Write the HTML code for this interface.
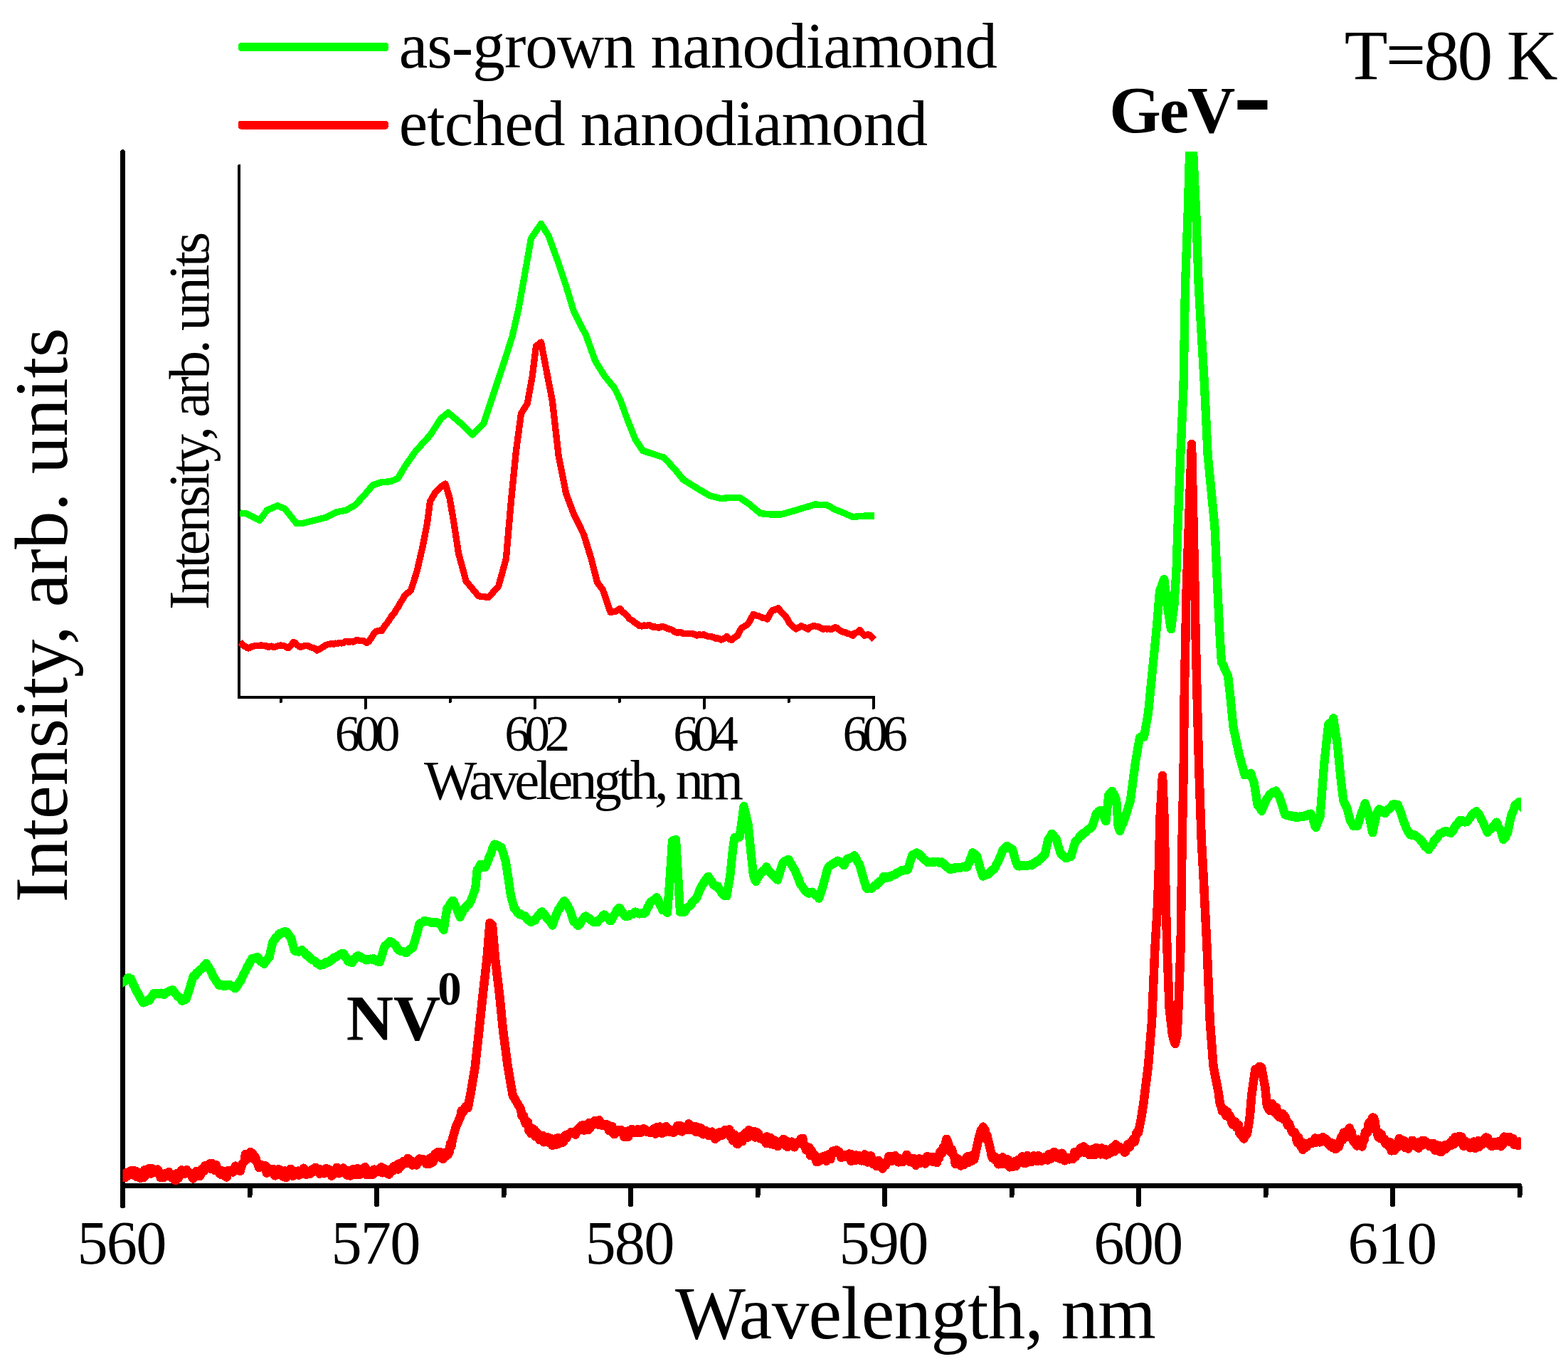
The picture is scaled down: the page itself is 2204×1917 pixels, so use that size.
<!DOCTYPE html>
<html><head><meta charset="utf-8"><title>Nanodiamond spectra</title><style>html,body{margin:0;padding:0;background:#fff;}svg{display:block;}</style></head><body>
<svg width="2204" height="1917" viewBox="0 0 2204 1917" font-family="'Liberation Serif', 'Times New Roman', serif" shape-rendering="crispEdges">
<defs><clipPath id="cm"><rect x="172.5" y="213" width="1965.5" height="1453.5"/></clipPath></defs>
<rect width="2204" height="1917" fill="#fff"/>
<g stroke="#000" stroke-width="7" stroke-linecap="round" fill="none">
<path d="M172.5 213.5 V1694.5"/>
<path d="M172.5 1666.5 H2136"/>
<path d="M172.5 1666.5 V1692.5"/>
<path d="M529.5 1666.5 V1692.5"/>
<path d="M886.5 1666.5 V1692.5"/>
<path d="M1243.5 1666.5 V1692.5"/>
<path d="M1600.5 1666.5 V1692.5"/>
<path d="M1957.5 1666.5 V1692.5"/>
<path d="M351 1666.5 V1680"/>
<path d="M708 1666.5 V1680"/>
<path d="M1065 1666.5 V1680"/>
<path d="M1422 1666.5 V1680"/>
<path d="M1779 1666.5 V1680"/>
<path d="M2136 1666.5 V1680"/>
</g>
<g clip-path="url(#cm)" fill="none" stroke-linejoin="round" stroke-linecap="butt">
<path stroke="#00ff00" stroke-width="12.3" d="M165 1386 L172.3 1380.4 L173.7 1380.1 L175.1 1378.7 L176.6 1378.2 L178 1377.3 L179.4 1375 L180.8 1373.9 L182.6 1376.5 L184.4 1376 L185.8 1378.9 L187.2 1383.7 L188.7 1385.5 L190.1 1389.4 L191.5 1391.6 L192.9 1395 L194.3 1396.3 L195.7 1399.8 L197.2 1402.7 L198.6 1404.3 L200 1407.1 L201.4 1409.4 L202.8 1407.5 L204.2 1408.4 L205.7 1407.5 L207.1 1406.3 L208.5 1405.1 L209.9 1406.4 L211.4 1403.1 L212.9 1401.3 L214.5 1399.2 L216 1396.5 L217.5 1396.9 L219 1395.8 L220.5 1396.7 L222 1395.9 L223.4 1397.1 L224.8 1397.2 L226.2 1395.6 L227.7 1395.9 L229.1 1396.2 L230.5 1398 L232 1396.1 L233.6 1395.8 L235.1 1394.3 L236.6 1394 L238.1 1393 L239.6 1392.2 L241.2 1391.9 L242.7 1391.2 L244.2 1393.6 L245.6 1394.8 L247.1 1397 L248.5 1398.6 L250 1400.6 L251.5 1401.4 L253 1401.8 L254.5 1404.9 L256 1406.6 L257.5 1406.1 L259 1405 L260.5 1404.9 L262 1403.4 L267 1387.7 L268.6 1382.4 L270.2 1377.1 L271.8 1371.8 L273.2 1372.2 L274.6 1371 L276.1 1367.6 L277.5 1367.8 L278.9 1365.5 L280.3 1363.5 L281.9 1362.3 L283.5 1361.8 L285.1 1360.5 L286.8 1357.1 L288.4 1356.8 L290 1354 L291.5 1357.5 L293 1358.6 L294.5 1361.8 L296 1364.1 L297.7 1367 L299.3 1372.1 L301 1374.6 L302.4 1376.1 L303.8 1379.2 L305.2 1380 L306.6 1382.3 L308 1384.8 L309.5 1385.2 L311 1384.2 L312.5 1384 L314 1385.8 L315.5 1384.6 L317 1385.7 L318.4 1385.4 L319.9 1384 L321.3 1383.9 L322.8 1383.7 L324.2 1384.9 L325.6 1385.7 L327.1 1386.5 L328.5 1387.5 L329.9 1389.1 L331.3 1389 L332.7 1386.6 L334.2 1385 L335.6 1381.6 L337.1 1379.5 L338.5 1378.8 L339.9 1374.9 L341.3 1372.1 L342.8 1368.1 L344.2 1366.2 L345.6 1363.7 L347 1359.6 L348.5 1358.3 L349.9 1355.6 L351.4 1351.7 L352.8 1350.3 L354.3 1347.2 L355.8 1347.4 L357.2 1346.5 L358.7 1347 L360.1 1346.8 L361.6 1344.9 L363.2 1346.5 L364.8 1349.3 L366.5 1351.3 L368.1 1351.2 L369.7 1353.1 L371.3 1354.8 L372.8 1352.3 L374.2 1350.5 L375.7 1348.4 L377.1 1346.6 L378.6 1345.2 L383.4 1323.6 L384.8 1321.9 L386.3 1320.9 L387.7 1317.5 L389.1 1316.8 L390.6 1315.4 L392 1312.6 L393.6 1311.7 L395.2 1312.3 L396.9 1310.4 L398.5 1309.6 L400.1 1309.5 L401.7 1309.4 L403.2 1309.9 L404.6 1312.2 L406.1 1314 L407.5 1316.9 L409 1317.9 L413.8 1335.8 L416 1337.1 L417.4 1337.1 L418.9 1337.5 L420.3 1337.7 L421.7 1336.5 L423.2 1335.7 L424.6 1335.2 L426.2 1337.6 L427.8 1338.3 L429.5 1341.2 L431.1 1342.7 L432.7 1342.8 L434.3 1344.5 L435.9 1346.9 L437.4 1347.7 L439 1349.3 L440.6 1349.5 L442.1 1350.2 L443.7 1351.7 L445.3 1354 L446.9 1354.1 L448.4 1355.5 L450 1356.8 L451.6 1356.1 L453.1 1355.4 L454.7 1355.8 L456.3 1353.4 L457.9 1352.3 L459.4 1353.7 L461 1352.8 L462.6 1351.9 L464.2 1349.5 L465.9 1349.5 L467.5 1348.3 L469.1 1345.6 L470.7 1345.5 L472.2 1345.1 L473.7 1344.1 L475.2 1343.2 L476.8 1342 L478.3 1341.5 L479.8 1340.7 L481.3 1339.7 L482.8 1340.2 L484.3 1342 L485.9 1345.7 L487.4 1346.5 L488.9 1350.9 L490.4 1350.9 L491.9 1351.9 L493.5 1352.4 L495 1352.9 L496.4 1350.6 L497.8 1347.8 L499.2 1347.8 L500.6 1345 L502 1343.7 L503.4 1343 L505 1343.7 L506.6 1344.4 L508.2 1346.6 L509.8 1346.9 L511.4 1347.3 L513 1348.2 L514.5 1349.4 L516.1 1348.5 L517.6 1349.1 L519.1 1348 L520.7 1347.6 L522.2 1348.3 L523.8 1348.8 L525.3 1347.3 L526.7 1349.3 L528.1 1350.3 L529.5 1350.7 L531 1351.4 L532.4 1350.2 L533.8 1352.3 L539.9 1332.5 L541.3 1329.3 L542.7 1328.3 L544.1 1326.8 L545.5 1326 L546.9 1324.3 L548.3 1322.9 L549.8 1324.8 L551.2 1324.3 L552.7 1325.6 L554.1 1327 L555.6 1328.2 L557.1 1329.9 L558.7 1333.8 L560.2 1335.4 L561.7 1335.6 L563.3 1336.9 L564.9 1336.9 L566.5 1337.3 L568.2 1337.8 L569.8 1338.9 L571.4 1339.2 L572.8 1337.5 L574.3 1335.9 L575.7 1335 L577.1 1333.3 L578.6 1333 L580 1332.2 L586 1313.2 L589.6 1298.1 L591.1 1297.3 L592.5 1296.7 L594 1296.2 L595.4 1295.6 L596.9 1293.7 L598.5 1295.1 L600.1 1295.1 L601.8 1295.1 L603.4 1295.4 L605 1296.1 L606.6 1296.9 L608.2 1296.3 L609.8 1296.9 L611.5 1296.4 L613.1 1295.9 L614.7 1296.6 L616.3 1296.9 L617.8 1297.5 L619.2 1300.1 L620.7 1302 L622.1 1304.9 L623.6 1307 L628.4 1276.7 L629.8 1275.9 L631.3 1273.6 L632.7 1270.5 L634.1 1268.9 L635.6 1266.2 L637 1265.7 L638.5 1269 L640 1273.1 L641.5 1276.5 L643 1279.9 L644.9 1284.8 L646.7 1289.1 L648.2 1285.1 L649.7 1283.2 L651.2 1278.9 L652.7 1276.2 L654 1276.4 L655.4 1273.5 L656.7 1272.4 L658 1271.1 L659.4 1271 L660.9 1267.6 L662.3 1265.5 L668.3 1247.8 L670.8 1222 L672.4 1220.6 L674 1217.3 L675.6 1214.7 L677.1 1216.5 L678.7 1217.2 L680.2 1219.2 L681.7 1219 L683.2 1216.7 L684.8 1212.3 L686.3 1208.9 L687.8 1203.7 L689.2 1201.5 L690.7 1198.3 L692.1 1192.7 L693.6 1189.7 L695 1186.5 L696.4 1187.8 L697.8 1187.1 L699.2 1187.7 L700.6 1188.5 L702 1189.9 L703.4 1190.9 L704.8 1190.8 L710.8 1210.4 L714.5 1234.8 L718 1258.7 L723 1277.2 L724.4 1277.9 L725.9 1280.3 L727.3 1282.8 L728.8 1283 L730.2 1285.2 L731.7 1284.4 L733.1 1286 L734.6 1286.6 L736 1286.9 L737.5 1287 L739 1288.7 L740.4 1290.8 L741.9 1293 L743.3 1293.1 L744.8 1294.7 L746.2 1295.6 L747.7 1295.5 L749.1 1294.1 L750.6 1293.4 L752 1293.5 L753.4 1290.6 L754.8 1289.1 L756.2 1287.2 L757.6 1286.3 L759 1284 L760.4 1282.1 L761.8 1281.4 L763.2 1283.8 L764.6 1284.2 L766 1287 L767.5 1288.1 L768.9 1290.9 L770.3 1292.2 L771.8 1293.6 L773.3 1295.6 L774.9 1297.3 L776.4 1300.5 L777.8 1296.3 L779.3 1292 L780.7 1288.5 L782.2 1284.5 L783.6 1281.6 L785.2 1277.6 L786.8 1276.8 L788.5 1273.1 L790.1 1270.8 L791.7 1267.8 L793.3 1266 L794.8 1268.4 L796.2 1270.3 L797.7 1272.5 L799.1 1275.5 L800.6 1278.2 L802.1 1281.7 L803.7 1287 L805.2 1292.1 L806.7 1295.5 L808.2 1296.2 L809.8 1297.5 L811.3 1299.8 L812.8 1300.9 L814.4 1299.6 L815.9 1297.4 L817.5 1294.1 L819 1292.1 L820.6 1290.3 L822.1 1288.2 L823.7 1287.5 L825.3 1289.2 L826.9 1290.7 L828.5 1290.8 L830.2 1293.5 L831.8 1293.8 L833.4 1295.4 L834.9 1296.1 L836.5 1294.7 L838 1294.7 L839.5 1296.3 L841.1 1293.5 L842.7 1292.1 L844.4 1291 L846 1289.6 L847.6 1286.5 L849.2 1285.6 L850.8 1287.3 L852.4 1288.8 L854 1289.6 L855.7 1291.8 L857.3 1294 L858.9 1294.2 L860.5 1291.7 L862 1288 L863.6 1285.6 L865.1 1283.7 L866.7 1279.7 L868.2 1278.6 L869.8 1275.9 L871.4 1276.3 L873 1280.4 L874.6 1281.4 L876.3 1284.5 L877.9 1286.6 L879.5 1287.9 L881 1288 L882.5 1287.3 L884 1287 L885.5 1285.1 L886.9 1285.5 L888.4 1285.3 L889.9 1284 L891.4 1283 L892.9 1281.4 L894.4 1282.7 L896 1282.8 L897.5 1284.1 L899 1284.4 L900.4 1284.1 L901.8 1283.3 L903.2 1284.3 L904.6 1284.3 L906 1283.3 L907.4 1282.2 L908.9 1278.9 L910.3 1275.1 L911.7 1274.2 L913.2 1269.7 L914.6 1267.4 L916 1267.3 L917.4 1266 L918.8 1264.9 L920.2 1264.1 L921.6 1262.6 L923 1261.3 L924.4 1263.8 L925.9 1266.4 L927.3 1270.7 L928.7 1273.6 L930.2 1276 L931.6 1279.2 L933.2 1279.2 L934.8 1279.8 L936.4 1280.9 L938 1282.8 L942 1229 L945 1182 L946.7 1180.8 L948.3 1181.3 L950 1179.7 L953 1229.6 L956 1281.8 L957.5 1281.8 L959 1282.1 L960.5 1280.9 L962 1281.8 L963.5 1278.6 L965 1277.5 L966.5 1275.6 L968 1274.1 L969.6 1273.7 L971.1 1271.7 L972.7 1268.6 L974.2 1266.7 L975.8 1265.3 L977.3 1264.1 L978.9 1262.4 L980.3 1259.2 L981.7 1255.8 L983.1 1251.8 L984.6 1249.3 L986 1245.9 L987.4 1243.6 L988.8 1241.6 L990.2 1238.8 L991.6 1236.9 L993.1 1236.1 L994.5 1232.4 L995.9 1232.1 L997.3 1234.7 L998.7 1237.2 L1000.2 1238.4 L1001.6 1241.2 L1003 1243.7 L1004.5 1244.4 L1006 1245.8 L1007.5 1245.8 L1009 1245.6 L1010.5 1249.2 L1012 1250.8 L1013.5 1253.4 L1015 1256.1 L1016.5 1256.9 L1018.1 1259 L1019.8 1259.2 L1021.4 1259.3 L1026.2 1231.5 L1029.9 1194.9 L1032.3 1177.3 L1033.8 1177.8 L1035.2 1176.5 L1036.7 1177.2 L1038.1 1177.3 L1039.6 1176.6 L1045.6 1133.1 L1051.7 1159.5 L1055.3 1195.9 L1059 1230.6 L1060.8 1235.6 L1062.6 1238.9 L1064.1 1235.2 L1065.5 1233.5 L1067 1230.8 L1068.4 1228 L1069.9 1226.6 L1071.4 1226 L1072.8 1223.2 L1074.3 1222.9 L1075.7 1221.1 L1077.2 1218.4 L1078.6 1221.6 L1080 1222.7 L1081.5 1225 L1082.9 1226.2 L1084.3 1227.9 L1085.7 1228.7 L1087.2 1231.1 L1088.6 1232.7 L1090.1 1234 L1091.5 1234.5 L1093 1236.6 L1100.2 1213 L1101.6 1211.4 L1103 1210.4 L1104.5 1209.7 L1105.9 1209.2 L1107.3 1208.3 L1108.7 1208.3 L1110.3 1211.6 L1111.9 1214 L1113.6 1216.6 L1115.2 1220 L1116.8 1222 L1118.4 1225.2 L1119.9 1229.5 L1121.3 1232.4 L1122.8 1235.5 L1124.2 1240.7 L1125.7 1244 L1127.1 1245.2 L1128.5 1247.2 L1130 1249.6 L1131.4 1251.8 L1132.8 1253 L1134.2 1254.5 L1135.7 1254.7 L1137.1 1255.7 L1138.6 1254.1 L1140 1254.6 L1141.5 1253.7 L1143 1255 L1144.4 1256.1 L1145.9 1257.8 L1147.3 1258.6 L1148.8 1259.5 L1151 1262.6 L1157 1244.6 L1163.2 1221 L1164.7 1218.5 L1166.2 1216.9 L1167.8 1216.4 L1169.3 1214.8 L1170.9 1214.6 L1172.5 1212.3 L1174.2 1212.3 L1175.8 1211.4 L1177.4 1209.8 L1179 1211 L1180.5 1210.6 L1181.9 1211.5 L1183.4 1213.5 L1184.8 1214.1 L1186.3 1216.3 L1187.9 1212.9 L1189.5 1209.6 L1191.1 1206.7 L1192.7 1207.4 L1194.3 1205.6 L1195.9 1205.9 L1197.6 1204.4 L1199.2 1204.6 L1200.8 1202.4 L1202.3 1204.7 L1203.7 1207.2 L1205.2 1210.8 L1206.6 1212.8 L1208.1 1214.7 L1213 1232.1 L1217.8 1248.1 L1219.2 1249.1 L1220.7 1248.6 L1222.1 1247.7 L1223.6 1248.1 L1225 1248.6 L1226.4 1247.5 L1227.9 1245.9 L1229.3 1244.6 L1230.7 1244.6 L1232.2 1243.9 L1233.6 1241 L1235 1241.3 L1236.4 1238.7 L1237.8 1238 L1239.2 1236.8 L1240.6 1235.4 L1242 1232 L1243.5 1232.5 L1245 1233 L1246.4 1233.7 L1247.9 1231.7 L1249.4 1232 L1250.9 1232.7 L1252.3 1230.5 L1253.8 1230.5 L1255.2 1229.7 L1256.7 1229.9 L1258.3 1229.4 L1259.9 1226.8 L1261.6 1227 L1263.2 1225.9 L1264.8 1225.2 L1266.4 1223.5 L1268 1224.1 L1269.6 1222.7 L1271.2 1222.6 L1272.8 1222 L1274.4 1223 L1276 1222.2 L1282.1 1202.3 L1283.6 1200.9 L1285.2 1200.9 L1286.7 1199.4 L1288.2 1198.5 L1289.7 1199 L1291.1 1200.4 L1292.6 1200.8 L1294 1203.3 L1295.5 1203 L1297 1205.4 L1298.4 1207.5 L1299.9 1208.8 L1301.3 1209 L1302.8 1210.7 L1304.3 1212.1 L1305.8 1211.6 L1307.3 1212.1 L1308.8 1212.1 L1310.4 1211.2 L1311.9 1212.2 L1313.4 1211.8 L1314.9 1210.9 L1316.5 1211.2 L1318.1 1210.8 L1319.8 1211.7 L1321.4 1213.1 L1323 1211.4 L1324.6 1212.7 L1326.2 1213.3 L1327.8 1214.8 L1329.4 1217.7 L1331.1 1218.4 L1332.7 1219.6 L1334.3 1221.4 L1335.8 1222 L1337.2 1221.4 L1338.7 1219.7 L1340.1 1219.7 L1341.6 1220.8 L1343.1 1219 L1344.6 1219.6 L1346.1 1219.2 L1347.7 1219.8 L1349.2 1219.3 L1350.7 1219.5 L1352.2 1218.8 L1353.7 1217.9 L1355.2 1217.9 L1356.8 1217.7 L1358.3 1219.3 L1359.8 1217.7 L1361.2 1213.7 L1362.7 1211.9 L1364.1 1206.3 L1365.6 1203.9 L1367 1198.3 L1368.5 1200 L1370.1 1200.4 L1371.7 1202.6 L1373.2 1203.1 L1378 1221.3 L1379.8 1226.4 L1381.7 1231.5 L1383.2 1230.1 L1384.7 1230.3 L1386.2 1229.7 L1387.7 1228.6 L1389.2 1228.7 L1390.8 1226.7 L1392.3 1225.6 L1393.8 1222.8 L1395.6 1222.5 L1397.4 1221.3 L1398.9 1219.2 L1400.3 1215 L1401.8 1212.9 L1403.2 1210.5 L1404.7 1206.9 L1406.3 1203.4 L1408 1199.3 L1409.6 1194.1 L1411.1 1193.4 L1412.7 1192.1 L1414.2 1190 L1415.8 1189.1 L1417.3 1191.5 L1418.7 1191 L1420.2 1192.2 L1421.6 1192.4 L1423.1 1193.7 L1426.8 1207.1 L1428.7 1213 L1430.5 1216.9 L1431.9 1217.2 L1433.4 1217.5 L1434.8 1216.6 L1436.2 1217.3 L1437.7 1216.5 L1439.1 1216.2 L1440.7 1217.2 L1442.3 1216.9 L1443.9 1216.9 L1445.4 1215.7 L1447 1216.1 L1448.6 1215.2 L1450.2 1216.3 L1451.6 1215.3 L1453.1 1213.1 L1454.5 1213.7 L1455.9 1211.2 L1457.4 1210.2 L1458.8 1210.8 L1460.2 1208.6 L1461.6 1207.9 L1463 1206.9 L1464.4 1204.4 L1465.8 1204.7 L1467.2 1202.4 L1468.6 1201.6 L1473.5 1179.3 L1475.1 1177.7 L1476.8 1175.2 L1478.4 1171.7 L1479.9 1173.2 L1481.5 1175.5 L1483 1177.6 L1484.5 1178.7 L1486 1183.4 L1487.6 1189.4 L1489.2 1193.8 L1490.7 1199 L1492.2 1200.8 L1493.6 1202.3 L1495.1 1202.9 L1496.5 1204.1 L1498 1206.2 L1499.5 1205.8 L1501 1205.2 L1502.4 1204.5 L1503.9 1203.4 L1505.4 1203.8 L1511.5 1182.8 L1513 1181.5 L1514.5 1180.7 L1515.9 1178.8 L1517.4 1176 L1518.9 1174.1 L1520.3 1174.4 L1521.8 1171.6 L1523.2 1170.8 L1524.6 1170.7 L1526.1 1169.7 L1527.5 1167.9 L1529 1166.1 L1530.5 1165 L1531.9 1164.8 L1533.4 1162.6 L1534.9 1162.3 L1541 1143.4 L1542.5 1143.1 L1544 1140.3 L1545.4 1139.8 L1546.9 1138.7 L1548.4 1138.9 L1549.9 1142.6 L1551.5 1146 L1553 1151.1 L1554.5 1154.1 L1558.2 1117.8 L1559.8 1115.6 L1561.5 1114.7 L1563.1 1111.8 L1564.6 1114.6 L1566.2 1117.2 L1567.7 1121.1 L1569.2 1124.7 L1571.7 1161.6 L1573 1165.2 L1574.2 1168 L1575.7 1163.1 L1577.1 1159.1 L1578.6 1156.8 L1580 1153.2 L1581.5 1148.9 L1588.9 1125.1 L1596 1071.1 L1602 1036.5 L1603.5 1035.8 L1605 1034.9 L1606.5 1035.8 L1608 1035.9 L1614 1001.9 L1620 940.6 L1626 880.4 L1630 830.9 L1631.6 826.7 L1633.2 822.2 L1634.7 817.8 L1636.3 814 L1640.3 849.3 L1646 884.3 L1650.4 850.4 L1653.5 802.1 L1655.5 741.1 L1659.3 639.8 L1663.5 544.7 L1666 400.9 L1669.6 300.7 L1674 149.9 L1681.3 301 L1684.7 400.2 L1692.9 539.6 L1697.7 640 L1707.5 740.8 L1712 841.8 L1715 900.7 L1717 930.9 L1718.5 933.6 L1720 935.6 L1721.5 940.2 L1723 943.4 L1724.5 946.6 L1726 949.5 L1729.5 980.5 L1733.5 1021.5 L1741.6 1059.8 L1749.6 1089.2 L1751 1088.3 L1752.5 1088.3 L1753.9 1088.9 L1755.3 1088.8 L1756.8 1087.9 L1758.2 1086.6 L1759.8 1092.9 L1761.3 1095.9 L1762.9 1101 L1767.6 1131.3 L1769 1132.2 L1770.5 1134.2 L1772 1137.7 L1773.4 1139.8 L1775 1135.1 L1776.5 1131.9 L1778.1 1128.4 L1779.7 1124.7 L1781.2 1121.7 L1782.8 1120 L1784.3 1116.8 L1785.8 1116 L1787.3 1114.7 L1788.9 1113.3 L1790.4 1113.1 L1791.9 1112.4 L1793.4 1111.4 L1794.8 1113.8 L1796.2 1117 L1797.6 1118.1 L1799 1121.5 L1800.4 1125.8 L1806.3 1145 L1807.9 1145.6 L1809.6 1146.3 L1811.2 1146 L1812.9 1146.9 L1814.5 1146 L1816 1146.6 L1817.4 1148.3 L1818.9 1146.7 L1820.3 1148.5 L1821.8 1147 L1823.3 1149 L1824.7 1148.4 L1826.2 1148.5 L1827.8 1147.2 L1829.5 1146.7 L1831.1 1148.1 L1832.8 1146.5 L1834.4 1146.3 L1836 1147 L1837.7 1146.4 L1839.3 1143.9 L1841 1145.2 L1842.6 1143.6 L1844 1147.2 L1845.4 1150.6 L1846.8 1155.2 L1848.2 1160.5 L1849.6 1162.9 L1851.1 1158.8 L1852.5 1155 L1854 1151.2 L1855.5 1147.9 L1861.3 1072.9 L1867.2 1018.4 L1868.6 1016.8 L1870 1016.5 L1871.4 1014.8 L1872.8 1012.9 L1874.2 1009.4 L1880.1 1048.3 L1884.8 1096.5 L1888.3 1124.8 L1889.8 1128.7 L1891.2 1131.4 L1892.6 1134.2 L1894.1 1138.5 L1897.7 1152.2 L1899.3 1155.4 L1900.8 1158.1 L1902.4 1160.9 L1903.9 1160.8 L1905.3 1160.4 L1906.8 1160.3 L1908.2 1160.7 L1914.1 1141.6 L1915.7 1137.8 L1917.2 1133.9 L1918.8 1129.1 L1924.6 1147.5 L1929.3 1170.3 L1935.2 1143 L1937 1139.3 L1938.7 1137.2 L1940.3 1138 L1942 1138.6 L1943.6 1141.5 L1945.3 1141.2 L1946.9 1143.1 L1948.5 1139.8 L1950 1137.9 L1951.6 1138.1 L1953.1 1136.2 L1954.7 1135 L1956.2 1132.6 L1957.8 1130.6 L1959.2 1131.3 L1960.5 1130 L1961.9 1131.2 L1963.2 1131.2 L1964.6 1130.7 L1966.2 1135.6 L1967.8 1138.8 L1969.4 1143 L1972.3 1152.5 L1973.6 1155.6 L1974.9 1159 L1976.2 1162.7 L1977.7 1166 L1979.1 1168.3 L1980.5 1170.6 L1982 1172.9 L1983.5 1172.2 L1984.9 1174.2 L1986.4 1173.1 L1987.9 1173.3 L1989.3 1174.6 L1990.8 1175.6 L1992.3 1176.1 L1993.9 1178.2 L1995.4 1178.8 L1997 1181.6 L1998.5 1181.9 L1999.8 1183.9 L2001.1 1185.9 L2002.4 1188.6 L2003.9 1190.4 L2005.3 1191 L2006.8 1192.3 L2008.3 1194.3 L2009.8 1190.7 L2011.4 1189 L2012.9 1187.6 L2014.5 1185 L2016 1181 L2017.6 1180.8 L2019.1 1177.8 L2020.7 1177.2 L2022.2 1173.9 L2023.8 1171.6 L2025.4 1171.3 L2026.9 1171.1 L2028.5 1169.2 L2030 1169.2 L2031.6 1167.9 L2033.1 1167.9 L2034.7 1168.5 L2036.2 1169.8 L2037.8 1170.3 L2039.3 1171 L2040.8 1169.4 L2042.2 1167.7 L2043.6 1164.9 L2045.1 1161.7 L2046.5 1160.1 L2047.8 1158.7 L2049.2 1157.5 L2050.5 1154.7 L2051.9 1152.9 L2053.3 1153.5 L2054.7 1153.6 L2056.1 1153.2 L2057.5 1154.5 L2058.9 1155.4 L2060.3 1154.7 L2061.7 1155.3 L2063.4 1153.3 L2065.1 1151.1 L2066.7 1149.1 L2068.4 1145.9 L2069.8 1145.2 L2071.1 1142.8 L2072.5 1143.4 L2073.8 1141.1 L2075.2 1140.1 L2076.6 1143 L2078.1 1143.6 L2079.6 1145.4 L2081 1148.7 L2082.6 1152.1 L2084.3 1154.8 L2085.9 1158.6 L2087.5 1162.5 L2089.2 1165 L2090.8 1170 L2092.4 1167.3 L2094 1166.2 L2095.6 1165.2 L2097.2 1163.5 L2098.7 1161.4 L2100.3 1159.9 L2101.8 1158 L2103.4 1155.6 L2104.8 1157.7 L2106.3 1162.6 L2107.8 1164.9 L2109.2 1166.5 L2113.1 1179.9 L2114.6 1178.6 L2116 1177.2 L2117.4 1173.2 L2118.9 1171.1 L2123.8 1148 L2125.2 1143.7 L2126.7 1140.6 L2128.2 1136.3 L2129.6 1131.1 L2131.1 1130.3 L2132.5 1129.7 L2133.9 1129.4 L2135.4 1126.9 L2136.7 1130.3 L2137.9 1132.5 L2145 1140"/>
<path stroke="#ff0000" stroke-width="12.5" d="M165 1655 L172.4 1652.4 L173.9 1650.1 L175.4 1655.2 L176.9 1648.5 L178.4 1653.2 L179.8 1651 L181.3 1646.9 L182.8 1651.1 L184.3 1645.2 L185.8 1648.9 L187.2 1644.9 L188.6 1645.1 L190.1 1648.8 L191.5 1653.8 L192.9 1646.7 L194.3 1648.3 L195.8 1652.7 L197.3 1656 L198.8 1651.8 L200.4 1649.5 L201.9 1655.1 L203.4 1644.1 L204.9 1652.2 L206.4 1645.1 L207.9 1642.9 L209.4 1642.1 L210.9 1643.9 L212.4 1649.5 L214 1642.4 L215.5 1646.8 L217 1647.4 L218.5 1644.4 L219.9 1647.5 L221.3 1643.6 L222.8 1645.1 L224.2 1648.3 L225.6 1655.1 L227 1653.8 L228.5 1652.3 L229.9 1655.1 L231.4 1652.3 L232.8 1649.2 L234.3 1653.2 L235.9 1652.1 L237.4 1647.1 L239 1650.7 L240.5 1650.6 L242.1 1655.6 L243.6 1655.2 L245.2 1651.6 L246.6 1659.1 L248.1 1649.5 L249.5 1652.6 L250.9 1655.6 L252.4 1647.8 L253.8 1650.4 L255.3 1644.4 L256.7 1650.2 L258.1 1650.1 L259.6 1646.9 L261 1649.4 L262.5 1644.1 L264.1 1649.2 L265.6 1649 L267.1 1649.7 L268.6 1649.2 L270.1 1654.3 L271.7 1656.5 L273.2 1652.3 L274.7 1653.4 L276.2 1645.8 L277.7 1651.8 L279.2 1650.3 L280.8 1653.1 L282.3 1650.2 L283.8 1643.2 L285.3 1643.3 L286.8 1645.8 L288.3 1638.1 L289.8 1642.2 L291.4 1638.3 L292.9 1637 L294.4 1635.6 L295.9 1642.6 L297.4 1634.8 L299 1636.6 L300.6 1638.8 L302.2 1645.1 L303.9 1637.4 L305.5 1642.4 L307.1 1644.5 L308.5 1649.3 L309.9 1649.7 L311.4 1651.1 L312.8 1645.5 L314.2 1647.8 L315.6 1648.1 L317.1 1653.8 L318.7 1654.5 L320.2 1645.4 L321.7 1645.2 L323.2 1645.2 L324.8 1644.7 L326.3 1646.9 L327.8 1647.5 L329.4 1642.5 L331 1638.6 L332.6 1642.5 L334.3 1641.2 L335.9 1642.6 L337.5 1646.1 L339 1640.6 L340.5 1635.9 L342 1634.1 L343.5 1631.8 L345 1621.9 L346.4 1630 L347.8 1627.4 L349.2 1627.1 L350.6 1625 L352 1619.1 L353.5 1621.6 L354.9 1620.7 L356.4 1628.9 L357.8 1625 L359.3 1627.4 L360.9 1632.7 L362.6 1635.7 L364.2 1641.2 L365.7 1637.9 L367.2 1637.1 L368.7 1638.5 L370.2 1637.9 L371.8 1641.6 L373.3 1638.6 L374.8 1648.7 L376.3 1646.7 L377.8 1642.4 L379.3 1644.3 L380.8 1645.7 L382.4 1645.8 L383.9 1643.1 L385.4 1651 L386.9 1652.5 L388.4 1646.7 L389.9 1646.8 L391.4 1643 L393 1643.8 L394.5 1647 L396 1646.7 L397.6 1653.5 L399.1 1646.8 L400.6 1645.5 L402.1 1655.2 L403.6 1650 L405.2 1645.2 L406.7 1649.1 L408.2 1642.8 L409.7 1647.8 L411.2 1652.9 L412.7 1652 L414.2 1650.4 L415.8 1646 L417.3 1647.5 L418.8 1645.6 L420.4 1651.6 L422.1 1648 L423.7 1649.8 L425.4 1643.9 L427 1641.7 L428.5 1648.5 L430.1 1650.8 L431.6 1649.6 L433.1 1649.5 L434.7 1649.9 L436.2 1649.4 L437.8 1644 L439.3 1647.6 L440.8 1645.4 L442.2 1641.5 L443.7 1641 L445.1 1643.4 L446.6 1642.8 L448 1647.1 L449.4 1649.6 L450.9 1643.7 L452.4 1648.8 L453.8 1649 L455.3 1649.3 L456.9 1643.3 L458.4 1642.3 L459.9 1643 L461.4 1643.2 L462.9 1643.8 L464.5 1649 L466 1652.6 L467.5 1651.2 L469 1646.5 L470.4 1647.7 L471.9 1649 L473.4 1640.8 L474.9 1646.9 L476.3 1649.3 L477.8 1647.6 L479.3 1646.9 L480.8 1644.5 L482.3 1641.5 L483.8 1648.6 L485.3 1643.9 L486.7 1649.4 L488.2 1651.6 L489.7 1645.6 L491.2 1646.1 L492.7 1652.5 L494.1 1649.8 L495.6 1643.6 L497.1 1642.9 L498.5 1643 L499.9 1651.1 L501.4 1649.8 L502.8 1642.2 L504.3 1649.4 L505.8 1650.8 L507.2 1647 L508.7 1643.5 L510.2 1645.5 L511.8 1641.2 L513.3 1640.1 L514.8 1650.8 L516.4 1647.5 L517.9 1646.4 L519.4 1651.1 L521 1645.8 L522.6 1650.8 L524.2 1650.4 L525.8 1643.7 L527.4 1644.3 L529 1644.8 L530.4 1643.7 L531.8 1646.9 L533.2 1642.8 L534.6 1644 L536 1640.3 L537.4 1648.3 L538.8 1641.6 L540.4 1642.9 L542 1644.9 L543.6 1649.1 L545.3 1644.4 L546.9 1650.5 L548.5 1646.5 L550.1 1646.8 L551.7 1645.8 L553.4 1639.4 L555 1643.2 L556.6 1639.5 L558.2 1636.6 L559.7 1643.5 L561.2 1635.3 L562.7 1637.3 L564.2 1638.8 L565.8 1635.6 L567.3 1631.8 L568.8 1632.6 L570.3 1631.7 L571.8 1634.8 L573.3 1627.9 L574.9 1633.4 L576.4 1630.6 L577.9 1631.4 L579.5 1637.5 L581 1635.1 L582.5 1636.3 L584 1637.1 L585.4 1637.4 L586.9 1630.9 L588.3 1631.3 L589.8 1628.7 L591.3 1629.2 L592.8 1631.5 L594.3 1629.1 L595.8 1630.3 L597.4 1630 L598.9 1635.5 L600.4 1633.2 L601.9 1635.8 L603.4 1635.7 L604.9 1627.5 L606.4 1630 L608 1633.5 L609.5 1631.6 L611 1622.7 L612.5 1621 L614 1623.1 L615.5 1619.1 L616.9 1621.1 L618.4 1619.3 L619.8 1625.9 L621.3 1628.1 L622.8 1628.7 L624.2 1620 L625.7 1625.6 L627.1 1624.4 L628.6 1618.1 L630.1 1622.5 L631.5 1619.4 L633 1607.2 L634.4 1611.2 L635.9 1601.1 L640.7 1584.1 L645.6 1573.1 L647.1 1569.9 L648.7 1561 L650.2 1562.6 L651.7 1562.2 L653.2 1558.4 L654.7 1554.9 L656.2 1554.4 L657.7 1557 L662.6 1531 L668 1497.6 L673.5 1447.4 L678.8 1397 L684.5 1347 L688.5 1297 L692 1300 L696 1347 L702 1397 L707 1447.4 L713.6 1497.6 L720.7 1539.4 L732 1558.7 L733.3 1567.6 L734.6 1569.4 L736 1567.8 L737.3 1574.3 L738.9 1579.3 L740.4 1580 L742 1577.1 L743.5 1589.3 L745.1 1589.1 L746.6 1593.2 L748.2 1585.7 L749.6 1589.1 L751 1587.8 L752.5 1597.1 L753.9 1592.6 L755.3 1592.1 L756.7 1596.4 L758.3 1602.2 L759.9 1601.7 L761.5 1596.3 L763.2 1596 L764.8 1605.3 L766.4 1602.3 L767.8 1604.4 L769.2 1598.3 L770.6 1598.5 L772.1 1606 L773.5 1603.6 L774.9 1600.2 L776.5 1609.9 L778.1 1606.7 L779.8 1608.6 L781.4 1600.4 L783 1608.4 L784.6 1599.3 L786.1 1607.2 L787.5 1601.8 L789 1599.7 L790.4 1601.4 L791.9 1605.3 L793.5 1597.5 L795 1595.3 L796.6 1599.1 L798.1 1595.3 L799.7 1593.3 L801.2 1593 L802.8 1590.9 L804.4 1591.6 L805.9 1591.8 L807.5 1590.7 L809 1594.6 L810.6 1588.5 L812.1 1589.8 L813.7 1585.3 L815.1 1586.6 L816.5 1582.4 L818 1584.4 L819.4 1581.2 L820.8 1588.7 L822.2 1586.5 L823.7 1581.6 L825.2 1583.9 L826.8 1588 L828.3 1578 L829.8 1584.9 L831.4 1579 L832.9 1578 L834.4 1580 L836 1574.8 L837.6 1575.6 L839.2 1577.3 L840.8 1580.7 L842.4 1574.3 L844 1580.4 L845.5 1580.9 L847 1581.9 L848.4 1581.2 L849.9 1582.4 L851.4 1579.9 L852.9 1581.2 L854.4 1581 L855.9 1588.8 L857.5 1583.9 L859 1583.3 L860.5 1583.1 L862 1592.7 L863.5 1594.2 L865 1592.2 L866.5 1588.2 L868 1587.9 L869.5 1588.7 L871.1 1590.9 L872.6 1587.9 L874.1 1591.5 L875.6 1589.8 L877.1 1597.6 L878.7 1597.7 L880.2 1593.1 L881.8 1589.7 L883.3 1597.6 L884.9 1590.4 L886.4 1590.9 L888 1587 L889.5 1591.1 L891.1 1591.7 L892.6 1591.5 L894.1 1588.5 L895.5 1592.2 L897 1587.1 L898.4 1590.4 L899.9 1588.8 L901.4 1591.6 L903 1587.1 L904.5 1586.3 L906.1 1588.8 L907.6 1587.4 L909.2 1590.6 L910.7 1589.5 L912.3 1591.6 L913.8 1590.2 L915.4 1590.5 L916.9 1591.9 L918.4 1586.7 L919.9 1586.2 L921.4 1593.6 L923 1584.4 L924.5 1590.8 L926 1590 L927.5 1583.5 L929 1592.3 L930.5 1592.8 L932 1589.6 L933.5 1590.5 L935 1591 L936.4 1583.3 L937.9 1587.2 L939.4 1586.7 L940.9 1590.5 L942.4 1590.7 L943.9 1591 L945.3 1588.3 L946.8 1591.8 L948.2 1589.5 L949.7 1589.6 L951.2 1584.4 L952.6 1582 L954.1 1582.9 L955.5 1585.2 L957 1582.2 L958.6 1590.4 L960.1 1587.6 L961.7 1588 L963.3 1587.5 L964.9 1587.8 L966.4 1585.3 L968 1579.5 L969.6 1587.9 L971.1 1587.6 L972.7 1585.4 L974.1 1586.5 L975.6 1588.6 L977 1582.8 L978.4 1590.9 L979.9 1586.4 L981.3 1584.4 L982.7 1586.4 L984.1 1591.5 L985.6 1585.6 L987 1591.4 L988.5 1594.3 L990 1589.2 L991.6 1588.8 L993.1 1590.8 L994.6 1593.9 L996.1 1595.7 L997.7 1594.9 L999.2 1596.1 L1000.7 1590.7 L1002.2 1592.4 L1003.8 1594.5 L1005.3 1600.8 L1006.8 1595.7 L1008.3 1598.3 L1009.8 1591.9 L1011.4 1591.3 L1012.9 1592.5 L1014.4 1595.8 L1015.9 1594.9 L1017.4 1593.6 L1019 1588.2 L1020.5 1589.9 L1022 1589.2 L1023.5 1589.2 L1025 1587.2 L1026.5 1597.6 L1028.1 1591.9 L1029.6 1602.3 L1031.1 1603.5 L1032.7 1595.1 L1034.2 1601.6 L1035.7 1607.2 L1037.2 1608.1 L1038.7 1601.7 L1040.2 1598.9 L1041.8 1597.2 L1043.3 1604.2 L1044.8 1595.1 L1046.3 1598.1 L1047.8 1592.2 L1049.4 1595.3 L1050.9 1598.8 L1052.4 1588.3 L1053.9 1594.4 L1055.4 1591.5 L1056.9 1596.1 L1058.4 1594.6 L1059.9 1589.9 L1061.4 1598.5 L1063 1595.4 L1064.5 1591.6 L1066 1592.7 L1067.5 1599.5 L1069 1600.4 L1070.5 1599.9 L1072 1599.1 L1073.5 1601.3 L1075 1601 L1076.6 1606.7 L1078.1 1597.5 L1079.6 1605.7 L1081.2 1606.8 L1082.7 1599 L1084.2 1608 L1085.7 1606.2 L1087.2 1608.8 L1088.8 1602.7 L1090.3 1604 L1091.8 1604.4 L1093.4 1611.2 L1094.9 1606.9 L1096.4 1604.5 L1097.9 1605.1 L1099.4 1603.2 L1101 1600.8 L1102.5 1601.7 L1104 1610.1 L1105.5 1604.5 L1107 1612 L1108.5 1604.7 L1110 1605.3 L1111.6 1608.1 L1113.1 1604.7 L1114.6 1606.9 L1116.2 1612.3 L1117.7 1610.5 L1119.3 1608.6 L1120.8 1605.5 L1122.4 1607.2 L1123.9 1606.2 L1125.5 1600.6 L1127 1604.9 L1128.4 1599.9 L1129.9 1609.8 L1131.3 1609.6 L1132.8 1615.9 L1134.3 1616.2 L1135.8 1613.7 L1137.3 1612.6 L1138.9 1623.8 L1140.4 1616.5 L1141.9 1621.7 L1143.4 1621.8 L1144.9 1622.8 L1146.5 1629.1 L1148 1633.2 L1149.5 1626.8 L1151 1632.4 L1152.5 1628 L1154 1630.4 L1155.5 1628.1 L1157 1625.2 L1158.5 1624.7 L1160 1624.7 L1161.5 1631.7 L1163 1626.4 L1164.5 1622.4 L1165.9 1629.1 L1167.4 1629.1 L1168.9 1622.1 L1170.3 1617.9 L1171.8 1618.3 L1173.3 1616.9 L1174.8 1619.4 L1176.2 1616.4 L1177.7 1617.7 L1179.3 1618.7 L1180.8 1622.8 L1182.4 1626.9 L1184 1626 L1185.6 1622.9 L1187.1 1623.6 L1188.7 1625.4 L1190.3 1624.4 L1191.8 1624.3 L1193.4 1621.6 L1194.9 1624.1 L1196.3 1631.8 L1197.8 1622.6 L1199.2 1626.9 L1200.7 1628.3 L1202.2 1630.8 L1203.6 1623.6 L1205.1 1624.1 L1206.5 1623.8 L1208 1625.4 L1209.5 1625.6 L1210.9 1631.3 L1212.4 1630.6 L1213.8 1631.4 L1215.3 1622.5 L1216.8 1623.1 L1218.2 1631 L1219.7 1633.5 L1221.1 1628.9 L1222.6 1630.2 L1224.2 1624.4 L1225.7 1629.5 L1227.3 1636.1 L1228.9 1635.7 L1230.4 1636.9 L1232 1639.1 L1233.4 1631.8 L1234.8 1630.9 L1236.2 1632.1 L1237.6 1636.8 L1239 1639.2 L1240.4 1642.5 L1241.8 1640.1 L1243.3 1637.8 L1244.8 1637.6 L1246.3 1632.7 L1247.8 1632.3 L1249.2 1625.2 L1250.7 1632.1 L1252.2 1625.2 L1253.7 1631.9 L1255.2 1628 L1256.7 1625.2 L1258.3 1624.2 L1259.8 1626.4 L1261.4 1631.7 L1262.9 1633.5 L1264.5 1628.1 L1266 1628.7 L1267.4 1633.1 L1268.8 1633.2 L1270.2 1630.4 L1271.6 1627.4 L1273 1630.4 L1274.4 1622.8 L1275.8 1624.8 L1277.3 1627 L1278.7 1632.9 L1280.2 1629.9 L1281.6 1633.4 L1283.1 1629.8 L1284.6 1628 L1286 1629 L1287.5 1637.8 L1288.9 1635.8 L1290.4 1632.2 L1291.9 1628.5 L1293.3 1633.2 L1294.8 1634.6 L1296.2 1631.3 L1297.7 1629 L1299.2 1633 L1300.6 1635.4 L1302.1 1627.5 L1303.5 1625.1 L1305 1628.3 L1306.5 1629 L1308 1631.8 L1309.5 1626.3 L1311 1632.8 L1312.5 1632 L1314 1629.2 L1315.5 1625.8 L1317 1634 L1318.5 1624.6 L1320 1628.1 L1321.4 1619.2 L1322.9 1616.8 L1324.4 1620.4 L1325.9 1611.9 L1327.4 1615.8 L1328.9 1607.5 L1330.4 1600.8 L1331.9 1603.8 L1333.5 1608.4 L1335 1613.7 L1336.5 1619.3 L1338.1 1615.5 L1339.8 1623.1 L1341.4 1626.3 L1342.9 1635.9 L1344.4 1628 L1345.9 1628.2 L1347.4 1629.5 L1348.9 1633.1 L1350.5 1638.4 L1352 1637.4 L1353.5 1634.9 L1355 1637 L1356.5 1635.4 L1358.1 1627.9 L1359.6 1625.5 L1361.2 1633.8 L1362.8 1632.1 L1364.4 1624.6 L1366.1 1631.8 L1367.7 1629 L1369.3 1629.3 L1375.3 1601.7 L1377 1595.3 L1378.7 1588.9 L1380.3 1587.3 L1382 1583.7 L1383.4 1593.8 L1384.8 1588.2 L1386.1 1600.9 L1387.5 1596.1 L1392.3 1616.3 L1393.8 1624.6 L1395.3 1627.7 L1396.9 1626.6 L1398.4 1625.6 L1400 1631.3 L1401.6 1630.3 L1403.2 1636.3 L1404.8 1628.4 L1406.4 1630.3 L1408 1636.2 L1409.4 1626.4 L1410.8 1630.8 L1412.2 1635.9 L1413.6 1636.1 L1415 1628.8 L1416.4 1629.5 L1417.8 1630.5 L1419.2 1640.4 L1420.6 1633.2 L1422 1638.4 L1423.5 1639.8 L1424.9 1633.5 L1426.3 1632.5 L1427.8 1639.2 L1429.3 1634.7 L1430.8 1630.2 L1432.3 1634.7 L1433.9 1629.9 L1435.4 1629 L1436.9 1625.5 L1438.4 1633.3 L1439.9 1634.9 L1441.3 1631.5 L1442.8 1634.5 L1444.2 1624 L1445.7 1626 L1447.2 1628.2 L1448.6 1633.2 L1450.1 1632.8 L1451.5 1626.2 L1453 1624.4 L1454.6 1626.5 L1456.2 1627.3 L1457.8 1632.2 L1459.5 1624.2 L1461.1 1631.1 L1462.7 1630.6 L1464.1 1631.6 L1465.4 1631.1 L1466.8 1629.3 L1468.1 1626.3 L1469.5 1626.3 L1471.1 1626.3 L1472.6 1630.4 L1474.2 1622.2 L1475.7 1623 L1477.3 1628.6 L1478.8 1622.5 L1480.4 1620 L1481.9 1618.9 L1483.5 1623.9 L1485 1620.7 L1486.6 1627.2 L1488 1626.8 L1489.4 1628.6 L1490.9 1621.6 L1492.3 1620.8 L1493.7 1622.2 L1495.2 1627.8 L1496.6 1631.3 L1498 1629.6 L1499.6 1626.8 L1501.1 1628 L1502.7 1629.4 L1504.3 1629.1 L1505.8 1629 L1507.4 1629.2 L1508.8 1626.2 L1510.3 1619.1 L1511.7 1625.9 L1513.1 1618.8 L1514.6 1620.7 L1516 1617.5 L1517.4 1620.4 L1518.8 1613.4 L1520.3 1612.8 L1521.7 1611.9 L1523.3 1611.4 L1524.9 1620 L1526.4 1617.1 L1528 1614.9 L1529.6 1616.2 L1531.2 1623.2 L1532.7 1618.3 L1534.3 1615.7 L1535.9 1622.5 L1537.5 1620.1 L1539.1 1623.1 L1540.7 1612.9 L1542.2 1616.9 L1543.8 1620.6 L1545.4 1620.8 L1547 1622.4 L1548.6 1613.6 L1550.1 1617.1 L1551.7 1614.8 L1553.3 1615.2 L1554.9 1623.4 L1556.4 1618.7 L1558 1622.1 L1559.6 1615.6 L1561.1 1620.2 L1562.6 1614.9 L1564.1 1612.1 L1565.5 1617.2 L1567 1618.3 L1568.5 1608.4 L1570 1613.2 L1571.6 1614.8 L1573.2 1611.7 L1574.8 1614.7 L1576.3 1613.6 L1577.9 1615.6 L1579.5 1617.5 L1580.9 1619.7 L1582.3 1618.6 L1583.8 1612 L1585.2 1608.2 L1586.6 1610.1 L1588 1612.3 L1589.7 1604.9 L1591.3 1604.1 L1593 1600.6 L1594.7 1604.9 L1596 1600.1 L1597.3 1592.7 L1598.7 1591 L1600 1592.2 L1604 1572 L1607.5 1550 L1610.5 1525 L1614 1498 L1619 1436 L1623.4 1333 L1626.6 1280 L1628.6 1230 L1630.5 1150 L1634 1090 L1636.5 1150 L1638 1230 L1639 1280 L1640.5 1333 L1643.6 1416 L1648 1455 L1651.8 1467 L1654.5 1455 L1656.4 1416 L1659.5 1333 L1661 1230 L1661.6 1181 L1663.7 1081 L1664.7 980 L1666.7 880 L1667.3 841 L1675 624 L1679.8 841 L1680.3 880 L1682.7 980 L1685.3 1081 L1688.8 1181 L1691.5 1230 L1696.6 1333 L1700.8 1436 L1705.5 1498.2 L1712.6 1534.9 L1715 1552.2 L1716.4 1554.3 L1717.9 1561.5 L1719.3 1559.7 L1720.7 1559.4 L1722.1 1560.5 L1723.6 1568.4 L1725 1562.3 L1726.6 1567.3 L1728.1 1567.2 L1729.7 1570.1 L1731.2 1577.1 L1732.8 1580.6 L1734.5 1575.9 L1736.2 1576.3 L1737.9 1584.4 L1739.4 1580.5 L1740.8 1580.5 L1742.3 1592.6 L1743.8 1589.7 L1745.2 1596.3 L1746.7 1594.1 L1748.3 1600.5 L1749.8 1597 L1751.4 1594.5 L1753 1593.5 L1756.8 1569.5 L1759.3 1538.9 L1763 1512.8 L1764.5 1502.7 L1765.9 1507.5 L1767.4 1503.7 L1768.8 1504.1 L1770.3 1499.1 L1771.7 1499.3 L1773.2 1500.6 L1778.3 1528.1 L1780.8 1552.9 L1782.3 1556.7 L1783.8 1559.8 L1785.4 1561.2 L1786.9 1552.3 L1788.4 1551.1 L1789.8 1561.6 L1791.3 1563.5 L1792.7 1559.5 L1794.1 1556.3 L1795.5 1567.3 L1797 1562.9 L1798.4 1570.1 L1799.8 1568 L1801.3 1571.4 L1802.7 1565.2 L1804.2 1573.2 L1805.6 1568.2 L1807.1 1571.3 L1808.5 1577.3 L1810.2 1581.7 L1811.9 1579 L1813.6 1583.8 L1815.1 1587.9 L1816.6 1591.2 L1818.2 1591.8 L1819.7 1591 L1821.2 1594.9 L1822.6 1602.2 L1824 1606.3 L1825.4 1598.9 L1826.8 1606.8 L1828.3 1611 L1829.7 1605.2 L1831.1 1615.8 L1832.5 1609.5 L1833.9 1613.6 L1835.4 1611.8 L1836.8 1611.5 L1838.3 1606.8 L1839.7 1606.9 L1841.2 1607.6 L1842.6 1604.8 L1844.1 1607.1 L1845.6 1604.6 L1847.2 1604.3 L1848.7 1599.5 L1850.2 1605.7 L1851.7 1603.7 L1853.2 1600.3 L1854.8 1605.4 L1856.3 1605 L1857.8 1600.8 L1859.4 1598.3 L1861 1602.6 L1862.5 1600 L1864.1 1601.6 L1865.7 1606.4 L1867.2 1604.1 L1868.8 1609.3 L1870.4 1611.4 L1871.8 1606.4 L1873.2 1613.1 L1874.6 1607.2 L1876.1 1614.5 L1877.5 1615.1 L1878.9 1612.4 L1880.3 1607.4 L1881.7 1612.1 L1885.5 1597.4 L1887.1 1602.2 L1888.7 1591.7 L1890.3 1598.1 L1891.8 1598.3 L1893.4 1594 L1895 1593.6 L1896.6 1585.4 L1898.2 1592.7 L1899.8 1591.4 L1901.3 1600.8 L1902.9 1604.7 L1904.5 1600.9 L1905.9 1608.3 L1907.4 1610.5 L1908.8 1601.6 L1910.3 1605.3 L1911.7 1609.8 L1913.2 1603.3 L1914.6 1611.5 L1916 1600.8 L1917.5 1602.9 L1918.9 1591.6 L1920.4 1591.7 L1921.8 1592.5 L1923.3 1580.8 L1924.7 1577.6 L1926.3 1578.7 L1927.8 1575.2 L1929.4 1570.6 L1931 1571.1 L1932.6 1575.7 L1934.2 1589.1 L1935.7 1591.1 L1937.3 1598.3 L1938.8 1592 L1940.2 1600.3 L1941.7 1594.2 L1943.1 1600 L1944.5 1602.5 L1946 1600.7 L1947.6 1607.6 L1949.2 1605.5 L1950.8 1606.9 L1952.4 1611.3 L1954 1605.2 L1955.7 1617.4 L1957.3 1615.8 L1958.9 1615.6 L1960.5 1616.8 L1962 1607.9 L1963.6 1612.9 L1965.1 1605.3 L1966.7 1599.9 L1968.1 1605.9 L1969.5 1603.8 L1970.9 1602.2 L1972.3 1609.7 L1973.7 1603.2 L1975.1 1612.9 L1976.5 1607.9 L1977.9 1611.3 L1979.3 1614.4 L1980.7 1609.5 L1982.1 1610.3 L1983.5 1606.3 L1984.9 1602.8 L1986.3 1603 L1987.8 1605 L1989.3 1610.9 L1990.8 1609.1 L1992.3 1609.7 L1993.8 1613.6 L1995.3 1604.9 L1996.9 1605.7 L1998.4 1610 L1999.9 1602.8 L2001.4 1602.9 L2002.9 1607.2 L2004.4 1604.8 L2005.9 1608 L2007.3 1606.6 L2008.7 1610.7 L2010.1 1610.8 L2011.5 1607 L2012.9 1611.9 L2014.3 1610.6 L2015.7 1607.3 L2017.2 1616.9 L2018.8 1610.1 L2020.3 1609.8 L2021.8 1609.7 L2023.4 1616.1 L2024.9 1619.2 L2026.4 1618.7 L2028 1615 L2029.5 1613.9 L2030.9 1609.6 L2032.3 1614.9 L2033.7 1612.4 L2035.1 1608.4 L2036.5 1610.1 L2037.9 1606.2 L2039.3 1610 L2040.8 1607.2 L2042.3 1601.4 L2043.9 1608 L2045.4 1598 L2046.9 1602.8 L2048.4 1600.9 L2050 1598.4 L2051.5 1596.8 L2053 1605.1 L2054.5 1598 L2055.9 1605.2 L2057.4 1610.8 L2058.9 1603.3 L2060.4 1605 L2061.9 1610.1 L2063.3 1609.6 L2064.8 1611.6 L2066.2 1613.3 L2067.6 1606.2 L2069 1607.5 L2070.4 1607.3 L2071.8 1604.6 L2073.2 1613.9 L2074.6 1612.9 L2076.1 1611.5 L2077.6 1603.2 L2079.2 1611.8 L2080.7 1610.1 L2082.2 1606.1 L2083.7 1608.3 L2085.3 1604.2 L2086.8 1600.8 L2088.3 1598.6 L2089.7 1600.7 L2091.1 1599.3 L2092.5 1603.3 L2093.9 1608.6 L2095.3 1608.7 L2096.7 1611.1 L2098.1 1610.4 L2099.6 1604.9 L2101.1 1607.8 L2102.5 1606.4 L2104 1610.1 L2105.5 1607 L2106.9 1604 L2108.4 1607.9 L2109.9 1611.3 L2111.3 1602 L2112.7 1608.2 L2114.1 1597.6 L2115.5 1599.1 L2116.9 1597.8 L2118.3 1602.2 L2119.7 1603.3 L2121.1 1602.1 L2122.5 1598.4 L2123.9 1605.4 L2125.3 1600.3 L2126.7 1600.3 L2128.1 1608.6 L2129.5 1606.5 L2131.1 1607 L2132.6 1606.7 L2134.2 1610.1 L2135.7 1604.5 L2137.3 1608.5 L2145 1606"/>
</g>
<g stroke="#000" stroke-width="4" stroke-linecap="round" fill="none">
<path d="M336 233 V979.6 H1228.5"/>
<path d="M514 979.6 V995"/>
<path d="M752 979.6 V995"/>
<path d="M990 979.6 V995"/>
<path d="M1228 979.6 V995"/>
<path d="M395 979.6 V986"/>
<path d="M633 979.6 V986"/>
<path d="M871 979.6 V986"/>
<path d="M1109 979.6 V986"/>
</g>
<g fill="none" stroke-width="9.3" stroke-linejoin="round">
<path stroke="#00ff00" d="M337.2 721 L346.5 722 L365.1 731.4 L375.4 717 L389.9 710.7 L400.2 714.9 L416.7 735.5 L425 735.5 L441.5 731.4 L458 727.3 L472.5 720 L486.9 717 L499.3 709.7 L511.7 696.3 L524.1 681.8 L536.5 677.7 L548.9 676.7 L559.2 672.5 L569.5 655 L584 634.3 L594.3 623 L604.6 611.6 L620 588 L630 580 L648.1 595.3 L664 611 L679.8 595.3 L693.8 553 L707.9 511 L720.2 472.2 L729 433.6 L737.8 384.4 L746.5 335 L760.6 314.5 L771.1 331.6 L785.2 370.3 L795.7 402 L806.3 437 L818.6 461.7 L823.4 470.2 L836.8 507.7 L850.2 529 L863.6 545.2 L871.6 561.3 L882.3 590.8 L893 617.6 L903.8 633.6 L917.2 637.7 L933.3 643 L949.3 660.4 L960 673.8 L981.5 687.2 L997.6 696.6 L1013.6 700.6 L1028.4 699.3 L1039.5 699.3 L1052.1 707.7 L1068.8 721.6 L1082.8 723 L1098.1 723 L1117.7 717.4 L1131.6 713.2 L1145.6 709 L1162.3 709.8 L1173.5 716 L1187.4 721.6 L1198.6 726.5 L1215.3 725.1 L1228.6 725.1"/>
<path stroke="#ff0000" d="M337.2 902.7 L340.1 905 L342.9 907.7 L345.8 908.9 L348.6 911 L351.7 910.1 L354.8 908.3 L357.9 907.9 L361 907.2 L363.9 907.8 L366.9 906.7 L369.8 907.4 L372.8 907.3 L375.7 909 L378.7 909.1 L381.6 908.1 L384.7 909.4 L387.8 908.9 L390.9 907.7 L394 907.1 L397.1 907.2 L400.2 908 L403.3 910 L406.4 910.1 L409.5 906.3 L412.6 902.3 L415.4 903.9 L418.1 906.9 L420.9 908.9 L424.3 909 L427.8 907.6 L431.2 907.2 L434.1 908.1 L437 909.7 L439.8 910.5 L442.7 911.3 L445.6 914 L448.7 912.5 L451.8 910.6 L454.9 908.8 L458 906.5 L460.8 905.8 L463.5 905.4 L466.2 904.5 L469 905.4 L471.8 904.1 L474.5 904.5 L477.2 903.2 L480 904 L482.8 903.4 L485.5 901.4 L488.2 901.5 L491 902.5 L493.8 901.3 L496.5 902 L499.3 900.5 L502.1 899.5 L504.8 900.3 L507.6 900.3 L510.3 900.6 L513.1 901.6 L515.8 903.5 L518.9 900.9 L522 896.6 L525.1 891.4 L528.2 887.8 L531 886.8 L533.7 886 L536.5 886.8 L539.9 880.8 L543.4 876.7 L546.8 871.7 L550.2 866.3 L553.7 862.6 L557.1 856.6 L560.2 852.4 L563.3 846.2 L566.4 841.7 L569.5 836.1 L572.3 833.5 L575 832.1 L577.8 829 L586 803.2 L594.3 767.3 L600.5 735.5 L604.6 704.5 L612 692 L620 684 L626 680 L632 700 L637.6 732.3 L644.6 778 L655.1 816.7 L672.7 837.8 L686.8 839.5 L700.8 823.7 L711.4 785 L718.4 704.2 L725.4 634 L732.5 581.2 L741.3 567.1 L748.3 528.5 L753.6 486.3 L760.6 481 L767.6 518 L776.4 563.6 L785.2 641 L795.7 693.7 L806.3 721.8 L820.7 751.5 L831.4 786.4 L839.5 818.5 L847.5 829.2 L858.2 860.8 L861.6 859.8 L864.9 859.4 L868.2 857.6 L871.6 855.2 L875 860.3 L878.3 862.1 L881.6 865.6 L885 869.9 L888.4 871.8 L891.7 874.4 L895 876.6 L898.4 879.4 L901.8 880 L905.1 879 L908.4 879.4 L911.8 878.5 L914.5 879.4 L917.1 881.1 L919.8 880.8 L922.5 881.6 L925.9 882.2 L929.2 880.9 L932.5 880.8 L935.9 882.3 L939.2 883.8 L942.6 884.3 L945.9 885.9 L949.3 888.7 L952.6 889.4 L956 888.2 L959.4 890.1 L962.7 890.3 L966.1 890.4 L969.4 890.7 L972.8 890.7 L976.1 891.3 L979.5 893.1 L982.8 891.7 L986.1 892.6 L989.5 891.7 L992.9 893.8 L996.2 894.4 L999.6 894.8 L1003 895.6 L1005.6 897.3 L1008.3 896.7 L1011 897.7 L1013.6 899 L1016.3 898.3 L1019 896.5 L1021.7 894.5 L1025.1 898.4 L1028.4 899.6 L1031.2 896.9 L1033.9 895.1 L1036.7 893.1 L1039.5 887.4 L1042.3 882.8 L1045.6 880.8 L1048.8 878.9 L1052.1 875.8 L1055.6 869.2 L1059.1 863.3 L1062.5 864.9 L1066 865.6 L1069.2 867.1 L1072.3 868.3 L1075.4 868.8 L1078.6 870 L1082.1 863 L1085.6 857.8 L1088.4 856.9 L1091.1 856.9 L1093.9 854.5 L1097.2 859 L1100.4 862 L1103.7 865.8 L1106.5 869.6 L1109.3 875.6 L1112.1 878.5 L1115.5 881.4 L1119 883.9 L1122.5 882.2 L1126 879.8 L1129.3 881.1 L1132.5 882.6 L1135.8 884.2 L1138.6 881.5 L1141.4 880.6 L1144.2 879.4 L1147.3 880.5 L1150.5 880.8 L1153.6 882.8 L1156.7 884.1 L1159.5 883.7 L1162.3 884 L1165.1 883.8 L1167.9 884.4 L1170.7 883.7 L1173.5 881.9 L1176.3 882.3 L1179.1 884.9 L1181.8 886.5 L1184.6 888.1 L1187.4 888.4 L1190.2 890 L1193 890.7 L1195.8 891.4 L1198.6 893.2 L1201.8 889.6 L1205.1 888.8 L1208.3 885.3 L1211.8 889.9 L1215.3 893.2 L1218.8 892 L1222.3 892.2 L1225.4 895.3 L1228.6 898.8"/>
</g>
<rect x="334.6" y="59.8" width="211.6" height="12.2" rx="4.5" fill="#00ff00"/>
<rect x="334.6" y="169.5" width="211.6" height="12.2" rx="4.5" fill="#ff0000"/>
<g fill="#000">
<text transform="translate(560.64 95.00) scale(0.9145)" font-size="100" letter-spacing="-1.12">as-grown nanodiamond</text>
<text transform="translate(560.65 203.80) scale(0.9116)" font-size="100" letter-spacing="-0.87">etched nanodiamond</text>
<text transform="translate(1889.81 111.30) scale(0.9954)" font-size="100" letter-spacing="-2.68">T=80 K</text>
<text transform="translate(1559.34 185.80) scale(0.9323)" font-size="100" letter-spacing="-2.24" font-weight="bold">GeV</text>
<text transform="translate(1733.62 184.45) scale(1.6192 1.5500)" font-size="100" font-weight="bold">-</text>
<text transform="translate(486.86 1461.80) scale(0.9185)" font-size="100" letter-spacing="-0.11" font-weight="bold">NV</text>
<text transform="translate(615.22 1411.56) scale(0.6690 0.6701)" font-size="100" font-weight="bold">0</text>
<text transform="translate(94.10 1268.26) rotate(-90) scale(1.0662)" font-size="100" letter-spacing="-0.41">Intensity, arb. units</text>
<text transform="translate(948.90 1880.70) scale(1.0493)" font-size="100" letter-spacing="-0.65">Wavelength, nm</text>
<text transform="translate(108.46 1776.07) scale(0.8642)" font-size="100" letter-spacing="-2.13">560</text>
<text transform="translate(465.46 1776.07) scale(0.8642)" font-size="100" letter-spacing="-2.13">570</text>
<text transform="translate(822.46 1776.07) scale(0.8642)" font-size="100" letter-spacing="-2.13">580</text>
<text transform="translate(1179.46 1776.07) scale(0.8642)" font-size="100" letter-spacing="-2.13">590</text>
<text transform="translate(1537.36 1776.07) scale(0.8642)" font-size="100" letter-spacing="-2.16">600</text>
<text transform="translate(1894.41 1776.10) scale(0.8515)" font-size="100" letter-spacing="-1.14">610</text>
<text transform="translate(470.77 1054.68) scale(0.7090)" font-size="100" letter-spacing="-10.35">600</text>
<text transform="translate(709.37 1054.68) scale(0.7090)" font-size="100" letter-spacing="-10.21">602</text>
<text transform="translate(946.16 1054.68) scale(0.7090)" font-size="100" letter-spacing="-10.50">604</text>
<text transform="translate(1184.46 1054.68) scale(0.7090)" font-size="100" letter-spacing="-10.42">606</text>
<text transform="translate(595.90 1123.10) scale(0.7884)" font-size="100" letter-spacing="-6.38">Wavelength, nm</text>
<text transform="translate(292.50 856.88) rotate(-90) scale(0.7938)" font-size="100" letter-spacing="-4.83">Intensity, arb. units</text>
</g>
</svg>
</body></html>
